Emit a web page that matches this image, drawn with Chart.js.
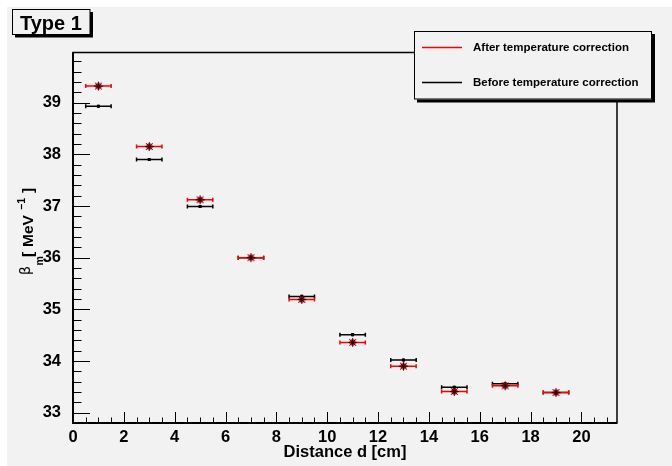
<!DOCTYPE html>
<html>
<head>
<meta charset="utf-8">
<script src="https://cdn.jsdelivr.net/npm/chart.js@4.4.1/dist/chart.umd.min.js"></script>
<style>
  html, body { margin: 0; padding: 0; background: #ffffff; }
  canvas { display: block; }
</style>
</head>
<body>
<canvas id="betaChart" width="672" height="466"></canvas>
<script>
// values
const distance    = [1, 3, 5, 7, 9, 11, 13, 15, 17, 19];
const distanceErr = [0.5, 0.5, 0.5, 0.5, 0.5, 0.5, 0.5, 0.5, 0.5, 0.5];
const betaAfter   = [39.32, 38.15, 37.12, 36.00, 35.19, 34.36, 33.90, 33.41, 33.52, 33.39];
const betaBefore  = [38.93, 37.90, 36.99, 36.00, 35.25, 34.51, 34.02, 33.49, 33.56, 33.39];
const betaErr     = [0.03, 0.03, 0.03, 0.03, 0.03, 0.03, 0.03, 0.03, 0.03, 0.03];
const xTicks = [0, 2, 4, 6, 8, 10, 12, 14, 16, 18, 20];
const yTicks = [33, 34, 35, 36, 37, 38, 39];
const seriesLabels = ['After temperature correction', 'Before temperature correction'];
const seriesColors = ['#ff0000', '#000000'];

const FONT = '"Liberation Sans", Arial, sans-serif';
const BG = '#f2f2f2';

function toPoints(ys) {
  return distance.map((d, i) => ({ x: d, y: ys[i], xErr: distanceErr[i], yErr: betaErr[i] }));
}

// red dot with a black asterisk on it (ROOT marker 3 over a red fill)
function starMarker() {
  const c = document.createElement('canvas');
  c.width = 13; c.height = 13;
  const g = c.getContext('2d');
  g.fillStyle = '#ff0000';
  g.beginPath(); g.arc(6.5, 6.5, 3.2, 0, Math.PI * 2); g.fill();
  g.strokeStyle = 'rgba(0,0,0,0.85)';
  g.lineWidth = 1;
  const r = 4.5, d = 3.4;
  g.beginPath();
  g.moveTo(6.5 - r, 6.5); g.lineTo(6.5 + r, 6.5);
  g.moveTo(6.5, 6.5 - r); g.lineTo(6.5, 6.5 + r);
  g.moveTo(6.5 - d, 6.5 - d); g.lineTo(6.5 + d, 6.5 + d);
  g.moveTo(6.5 - d, 6.5 + d); g.lineTo(6.5 + d, 6.5 - d);
  g.stroke();
  return c;
}

const rootStyle = {
  id: 'rootStyle',
  beforeDraw(chart) {
    const { ctx, width, height } = chart;
    ctx.save();
    ctx.fillStyle = '#ffffff';
    ctx.fillRect(0, 0, width, height);
    ctx.fillStyle = BG;
    ctx.fillRect(7, 7, width - 7, height - 7);
    ctx.restore();
  },
  beforeDatasetsDraw(chart) {
    const { ctx, chartArea: a } = chart;
    const xs = chart.scales.x, ys = chart.scales.y;
    ctx.save();
    ctx.strokeStyle = '#000';
    ctx.lineWidth = 1;
    // y ticks, inside the frame
    ctx.beginPath();
    for (let v = ys.min; v <= ys.max + 1e-9; v += 0.2) {
      const k = Math.round(v * 5) / 5;
      if (k <= ys.min || k >= ys.max) continue;
      const y = Math.round(ys.getPixelForValue(k)) + 0.5;
      const len = yTicks.includes(k) ? 17 : 8.5;
      ctx.moveTo(a.left, y); ctx.lineTo(a.left + len, y);
    }
    // x ticks
    for (let v = 0; v <= xs.max + 1e-9; v += 0.5) {
      if (v <= xs.min || v >= xs.max) continue;
      const x = Math.round(xs.getPixelForValue(v)) + 0.5;
      const len = xTicks.includes(v) ? 11 : 5.5;
      ctx.moveTo(x, a.bottom); ctx.lineTo(x, a.bottom - len);
    }
    ctx.stroke();
    // frame
    ctx.lineWidth = 1.5;
    ctx.strokeRect(a.left, a.top, a.right - a.left, a.bottom - a.top);
    ctx.lineWidth = 2;
    ctx.beginPath();
    ctx.moveTo(a.left, a.top); ctx.lineTo(a.left, a.bottom); ctx.lineTo(a.right, a.bottom);
    ctx.stroke();

    // error bars, black series first
    [1, 0].forEach(di => {
      const ds = chart.data.datasets[di];
      ctx.strokeStyle = ds.errColor;
      ctx.lineWidth = 1.5;
      ctx.beginPath();
      ds.data.forEach(p => {
        const x0 = xs.getPixelForValue(p.x - p.xErr);
        const x1 = xs.getPixelForValue(p.x + p.xErr);
        const y = ys.getPixelForValue(p.y);
        const yt = ys.getPixelForValue(p.y + p.yErr);
        const yb = ys.getPixelForValue(p.y - p.yErr);
        const xc = xs.getPixelForValue(p.x);
        ctx.moveTo(x0, y); ctx.lineTo(x1, y);
        ctx.moveTo(x0, y - 2); ctx.lineTo(x0, y + 2);
        ctx.moveTo(x1, y - 2); ctx.lineTo(x1, y + 2);
        ctx.moveTo(xc, yt); ctx.lineTo(xc, yb);
      });
      ctx.stroke();
    });
    ctx.restore();
  },
  afterDraw(chart) {
    const { ctx } = chart;
    ctx.save();
    // title box
    ctx.fillStyle = '#000';
    ctx.fillRect(15, 12, 78, 25.5);
    ctx.fillStyle = BG;
    ctx.fillRect(12, 9, 78, 25.5);
    ctx.strokeStyle = '#000';
    ctx.lineWidth = 1;
    ctx.strokeRect(12.5, 9.5, 77.5, 25);
    ctx.fillStyle = '#000';
    ctx.font = 'bold 20px ' + FONT;
    ctx.textBaseline = 'alphabetic';
    ctx.textAlign = 'left';
    ctx.fillText('Type 1', 20, 29.5);

    // legend box
    ctx.fillStyle = '#000';
    ctx.fillRect(417, 34, 238, 68.5);
    ctx.fillStyle = BG;
    ctx.fillRect(414, 31, 238, 68.5);
    ctx.strokeRect(414.5, 31.5, 237, 67.5);
    const rows = [47, 82];
    chart.data.datasets.forEach((ds, i) => {
      ctx.strokeStyle = ds.errColor;
      ctx.lineWidth = 1.3;
      ctx.beginPath();
      ctx.moveTo(422, rows[i] + 0.5); ctx.lineTo(462, rows[i] + 0.5);
      ctx.stroke();
      ctx.fillStyle = '#000';
      ctx.font = 'bold 11.5px ' + FONT;
      ctx.textBaseline = 'middle';
      ctx.fillText(ds.label, 473, rows[i] + 1);
    });

    // y axis title:  beta_m [ MeV^-1 ]
    ctx.translate(28, 228);
    ctx.rotate(-Math.PI / 2);
    ctx.textBaseline = 'alphabetic';
    ctx.textAlign = 'left';
    ctx.fillStyle = '#000';
    const parts = [
      { t: '\u03b2', font: '14px "DejaVu Sans"', x: -47, y: 2 },
      { t: 'm', font: 'bold 10.5px ' + FONT, x: -37.5, y: 15 },
      { t: '[', font: 'bold 15.5px ' + FONT, x: -29, y: 5 },
      { t: 'MeV', font: 'bold 15.5px ' + FONT, x: -19, y: 5 },
      { t: '\u22121', font: 'bold 10.5px ' + FONT, x: 18, y: -3 },
      { t: ']', font: 'bold 15.5px ' + FONT, x: 35, y: 5 }
    ];
    parts.forEach(p => { ctx.font = p.font; ctx.fillText(p.t, p.x, p.y); });
    ctx.restore();
  }
};

new Chart(document.getElementById('betaChart').getContext('2d'), {
  type: 'scatter',
  data: {
    datasets: [{
      label: seriesLabels[0],
      data: toPoints(betaAfter),
      errColor: seriesColors[0],
      pointStyle: starMarker(),
      pointRadius: 6,
      pointHoverRadius: 6
    }, {
      label: seriesLabels[1],
      data: toPoints(betaBefore),
      errColor: seriesColors[1],
      pointStyle: 'rect',
      pointRadius: 2.2,
      pointHoverRadius: 2.2,
      backgroundColor: seriesColors[1],
      borderColor: seriesColors[1],
      borderWidth: 0
    }]
  },
  options: {
    responsive: false,
    animation: false,
    events: [],
    layout: { padding: { top: 52.5, right: 55, left: 0, bottom: 0 } },
    plugins: { legend: { display: false }, tooltip: { enabled: false } },
    scales: {
      x: {
        type: 'linear',
        min: 0,
        max: 21.4,
        grid: { display: false },
        border: { display: false },
        afterFit(scale) { scale.height = 43; },
        afterBuildTicks(scale) { scale.ticks = xTicks.map(v => ({ value: v })); },
        ticks: {
          autoSkip: false,
          maxRotation: 0,
          padding: -3,
          color: '#000',
          font: { family: FONT, size: 16.5, weight: 'bold' }
        },
        title: {
          display: true,
          text: 'Distance d [cm]',
          color: '#000',
          font: { family: FONT, size: 16.5, weight: 'bold' },
          padding: { top: 0, bottom: 4 }
        }
      },
      y: {
        type: 'linear',
        min: 32.8,
        max: 39.97,
        grid: { display: false },
        border: { display: false },
        afterFit(scale) { scale.width = 73; },
        afterBuildTicks(scale) { scale.ticks = yTicks.map(v => ({ value: v })); },
        ticks: {
          autoSkip: false,
          padding: 4,
          color: '#000',
          font: { family: FONT, size: 16.5, weight: 'bold' }
        }
      }
    }
  },
  plugins: [rootStyle]
});
</script>
</body>
</html>
